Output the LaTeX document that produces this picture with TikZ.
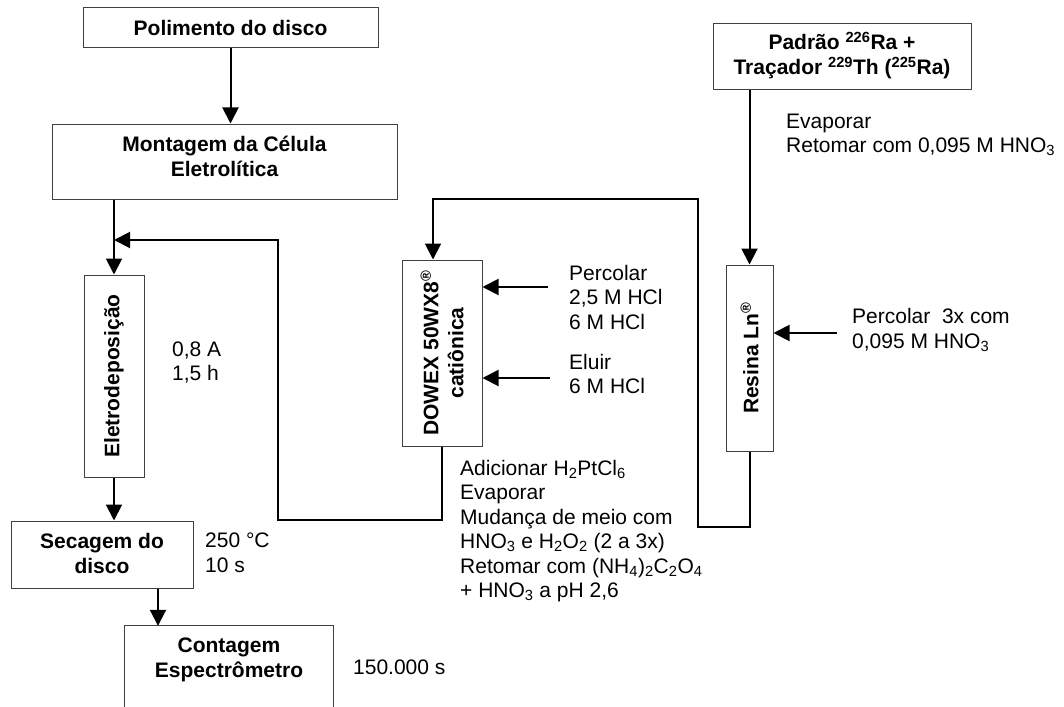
\documentclass[tikz,border=0pt]{standalone}
\usepackage{fontspec}
\setmainfont{Liberation Sans}
\usetikzlibrary{arrows.meta}
\begin{document}
\begin{tikzpicture}[x=1pt,y=-1pt,
  every node/.style={font=\fontsize{21}{24.5}\selectfont, inner sep=0pt},
  box/.style={draw=black!75, line width=1pt, align=center, font=\fontsize{21}{25}\selectfont\bfseries},
  btext/.style={align=center, font=\fontsize{21}{25}\selectfont\bfseries},
  lbl/.style={anchor=west, align=left},
  conn/.style={line width=2pt, -{Triangle[length=16pt,width=16pt]}},
  wire/.style={line width=2pt}
]
\useasboundingbox (0,0) rectangle (1064,706);
\clip (0,0) rectangle (1064,706);

% boxes
\node[box, minimum width=295, minimum height=40] (polim) at (230.5,28) {Polimento do disco};
\node[box, minimum width=345, minimum height=75] (mont) at (224.5,161.5) {};
\node[btext] at ([yshift=5pt]mont.center) {Montagem da Célula\\Eletrolítica};
\node[box, minimum width=60, minimum height=202] (eletro) at (114,376) {};
\node[btext, rotate=90] at (eletro.center) {Eletrodeposição};
\node[box, minimum width=182, minimum height=67] (secag) at (102,554.5) {};
\node[btext] at ([yshift=1.5pt]secag.center) {Secagem do\\disco};
\node[btext, minimum width=208, minimum height=68] (cont) at (229,660) {Contagem\\Espectrômetro};
\coordinate (bot) at (0,740);
\draw[draw=black!75, line width=1pt] (cont.west |- bot) -- (cont.north west) -- (cont.north east) -- (cont.east |- bot);

\node[box, minimum width=80, minimum height=186] (dowex) at (442,353) {};
\node[btext, rotate=90] at (dowex.center) {DOWEX 50WX8\textsuperscript{®}\\catiônica};
\node[box, minimum width=47, minimum height=186] (resina) at (749.5,358) {};
\node[btext, rotate=90] at (resina.center) {Resina Ln\textsuperscript{®}};
\node[box, minimum width=258, minimum height=66] (padrao) at (842,57) {};
\node[btext] at ([yshift=1.5pt]padrao.center) {Padrão \textsuperscript{226}Ra +\\Traçador \textsuperscript{229}Th (\textsuperscript{225}Ra)};

% side labels
\node[lbl] (i1) at (172,362.5) {0,8 A\\1,5 h};
\node[lbl] (i2) at (205,553) {250 °C\\10 s};
\node[lbl] (i3) at (353,667) {150.000 s};
\node[lbl] (perc) at (569,297) {Percolar\\2,5 M HCl\\6 M HCl};
\node[lbl] (elu) at (569,374) {Eluir\\6 M HCl};
\node[lbl] (adic) at (460,531) {Adicionar H\textsubscript{2}PtCl\textsubscript{6}\\Evaporar\\Mudança de meio com\\HNO\textsubscript{3} e H\textsubscript{2}O\textsubscript{2} (2 a 3x)\\Retomar com (NH\textsubscript{4})\textsubscript{2}C\textsubscript{2}O\textsubscript{4}\\+ HNO\textsubscript{3} a pH 2,6};
\node[lbl] (evap) at (786,135) {Evaporar\\Retomar com 0,095 M HNO\textsubscript{3}};
\node[lbl] (perc2) at (852,330) {Percolar\ \ 3x com\\0,095 M HNO\textsubscript{3}};

% coordinates
\coordinate (j1) at (114,240);
\coordinate (lb) at (278,520);
\coordinate (rb) at (698,527);
\coordinate (dt) at (433,199);
\coordinate (pa) at (548,287);
\coordinate (ea) at (550,378);
\coordinate (ra) at (837,333);
\coordinate (sx) at (158,0);

% connectors
\draw[conn] (polim.south) -- (polim.south |- mont.north);
\draw[conn] (mont.south -| eletro.north) -- (eletro.north);
\draw[conn] (eletro.south) -- (eletro.south |- secag.north);
\draw[conn] (secag.south -| sx) -- (cont.north -| sx);
\draw[conn] (dowex.south) |- (lb) |- (j1);
\draw[conn] (resina.south) |- (rb) |- (dt) -- (dt |- dowex.north);
\draw[conn] (padrao.south -| resina.north) -- (resina.north);
\draw[conn] (pa) -- (pa -| dowex.east);
\draw[conn] (ea) -- (ea -| dowex.east);
\draw[conn] (ra) -- (ra -| resina.east);
\end{tikzpicture}
\end{document}
